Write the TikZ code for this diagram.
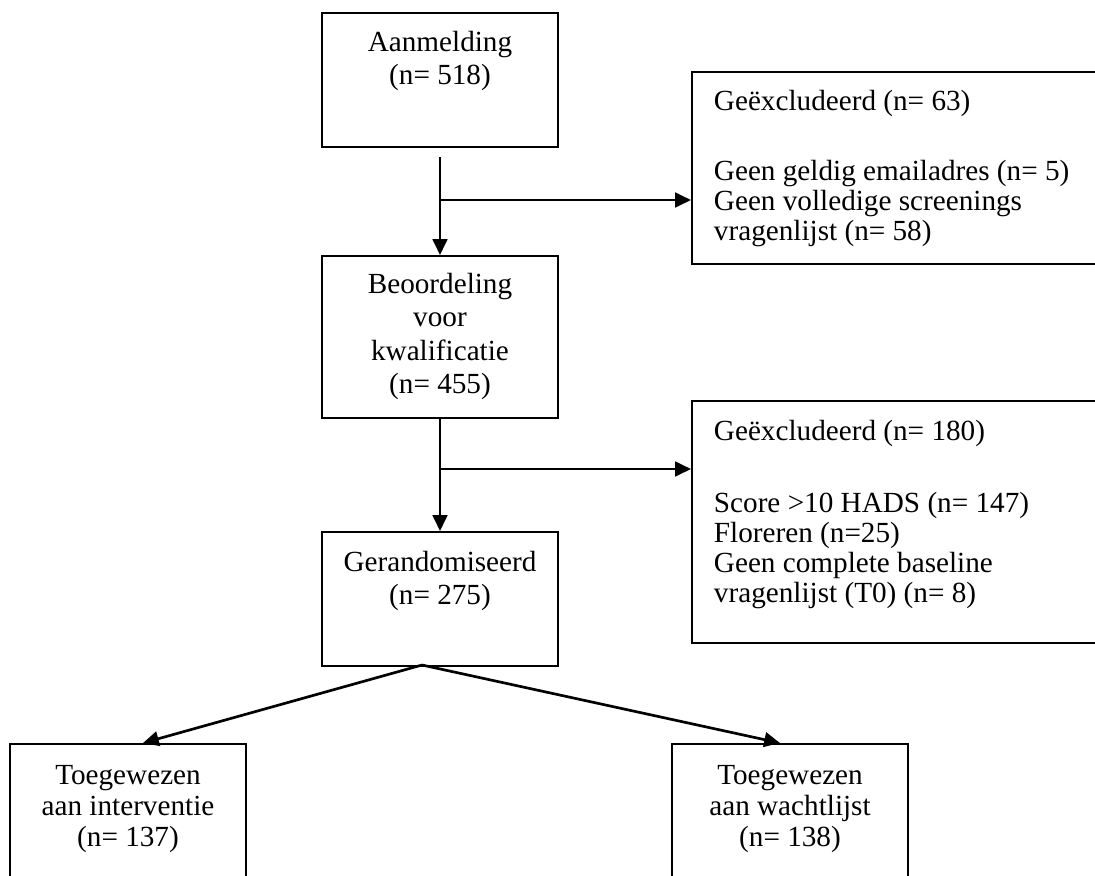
\documentclass[tikz,border=0pt]{standalone}
\usepackage{fontspec}
\setmainfont{Liberation Serif}
\usetikzlibrary{arrows.meta}

\begin{document}
\begin{tikzpicture}[x=0.411pt, y=-0.411pt, line width=0.8pt,
  frame/.style={draw, rectangle, inner sep=0pt, minimum width=97pt},
  mid/.style={align=center, inner sep=0pt, anchor=north, font=\fontsize{12}{13.8}\selectfont},
  low/.style={align=center, inner sep=0pt, anchor=north, font=\fontsize{12}{12.8}\selectfont},
  side/.style={align=left, inner sep=0pt, anchor=north west, font=\fontsize{12}{12.3}\selectfont},
  arr/.style={line width=1.1pt, -{Triangle[length=6.5pt,width=6pt]}}]
\useasboundingbox (0,0) rectangle (1095,875);
\clip (0,0) rectangle (1095,875);
%\draw[help lines, color=gray!30, dashed] (0,0) grid[step=50] (1095,875);
\node[frame, anchor=north, minimum height=55.1pt] (aanm) at (440,12) {};
\node[frame, anchor=north, minimum height=66.6pt] (beoo) at (440,255) {};
\node[frame, anchor=north, minimum height=55.1pt] (rand) at (440,531) {};
\node[frame, anchor=north west, minimum width=172.6pt, minimum height=78.9pt] (excl1) at (691,71) {};
\node[frame, anchor=north west, minimum width=172.6pt, minimum height=99.5pt] (excl2) at (691,400) {};
\node[frame, anchor=north, minimum height=65.8pt] (interv) at (128,743) {};
\node[frame, anchor=north, minimum height=65.8pt] (wacht) at (790,743) {};
\node[mid] (aanmtxt) at (440,30) {Aanmelding\\(n= 518)};
\node[mid] (beootxt) at (440,272) {Beoordeling\\voor\\kwalificatie\\(n= 455)};
\node[mid] (randtxt) at (440,550) {Gerandomiseerd\\(n= 275)};
\node[side] (excl1txt) at (713,89) {Geëxcludeerd (n= 63)\\[16.5pt]Geen geldig emailadres (n= 5)\\Geen volledige screenings\\vragenlijst (n= 58)};
\node[side] (excl2txt) at (713,419) {Geëxcludeerd (n= 180)\\[17.3pt]Score >10 HADS (n= 147)\\Floreren (n=25)\\Geen complete baseline\\vragenlijst (T0) (n= 8)};
\node[low] (intervtxt) at (128,764) {Toegewezen\\aan interventie\\(n= 137)};
\node[low] (wachttxt) at (790,764) {Toegewezen\\aan wachtlijst\\(n= 138)};
\coordinate (aanmout) at (440,157);
\coordinate (split1) at (440,200);
\coordinate (split2) at (440,469);
\coordinate (fork) at (422,665);
\coordinate (intervin) at (143,743);
\coordinate (wachtin) at (780,743);
\draw[arr] (aanmout) -- (beoo.north);
\draw[arr] (split1) -- (split1 -| excl1.west);
\draw[arr] (beoo.south) -- (rand.north);
\draw[arr] (split2) -- (split2 -| excl2.west);
\draw[arr] (fork) -- (intervin);
\draw[arr] (fork) -- (wachtin);
\end{tikzpicture}
\end{document}
